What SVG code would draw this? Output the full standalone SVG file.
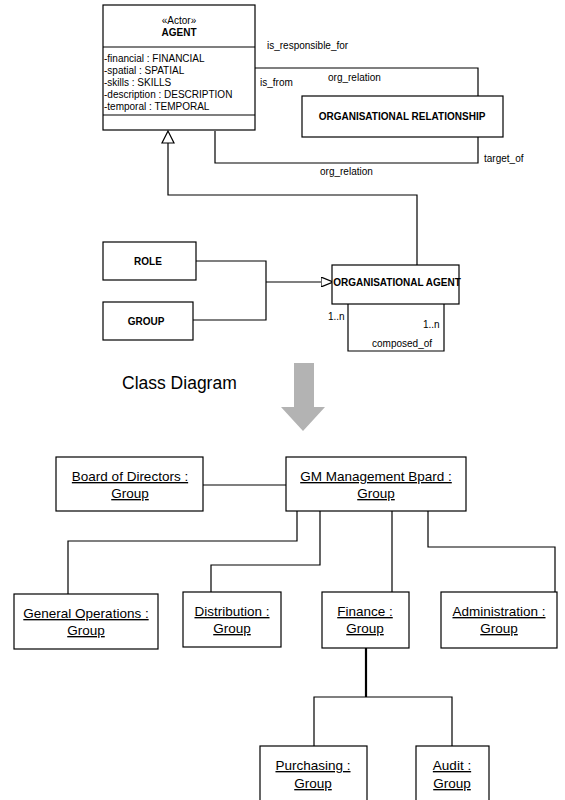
<svg xmlns="http://www.w3.org/2000/svg" width="565" height="800" viewBox="0 0 565 800">
  <style>
    .box { fill: #ffffff; stroke: #000000; stroke-width: 1.2; }
    .ln { fill: none; stroke: #000000; stroke-width: 1.2; }
    .thick { fill: none; stroke: #000000; stroke-width: 2.2; }
    .t { font-family: "Liberation Sans", Arial, sans-serif; font-size: 10px; fill: #000000; }
    .b { font-family: "Liberation Sans", Arial, sans-serif; font-size: 10px; font-weight: bold; fill: #000000; text-anchor: middle; }
    .obj { font-family: "Liberation Sans", Arial, sans-serif; font-size: 13.5px; fill: #000000; text-anchor: middle; text-decoration: underline; }
    .title { font-family: "Liberation Sans", Arial, sans-serif; font-size: 17.5px; fill: #000000; }
  </style>
  <defs>
    <marker id="hollow" viewBox="0 0 12 10" refX="12" refY="5" markerWidth="12" markerHeight="10" markerUnits="userSpaceOnUse" orient="auto">
      <path d="M0,0 L12,5 L0,10 Z" fill="#ffffff" stroke="#000000" stroke-width="1.2"/>
    </marker>
  </defs>

  <!-- class diagram connectors -->
  <g id="class-connectors">
    <!-- is_responsible_for / is_from association -->
    <polyline class="ln" points="255,68 478,68 478,96"/>
    <!-- target_of association -->
    <polyline class="ln" points="478,137 478,163 215,163 215,131"/>
    <!-- generalisation: organisational agent to agent -->
    <polyline class="ln" points="417,265 417,195 168,195 168,143"/>
    <path d="M168,131 L162,143 L174,143 Z" fill="#ffffff" stroke="#000000" stroke-width="1.2"/>
    <!-- generalisation: role / group to organisational agent -->
    <polyline class="ln" points="196,261 266,261 266,320 193,320"/>
    <line class="ln" x1="266" y1="282" x2="333" y2="282" marker-end="url(#hollow)"/>
    <!-- composed_of self association -->
    <polyline class="ln" points="348,304 348,351 444,351 444,304"/>
  </g>

  <g id="class-labels">
    <text class="t" x="267" y="49">is_responsible_for</text>
    <text class="t" x="260" y="86">is_from</text>
    <text class="t" x="328" y="81">org_relation</text>
    <text class="t" x="484" y="162">target_of</text>
    <text class="t" x="320" y="175">org_relation</text>
    <text class="t" x="328" y="320">1..n</text>
    <text class="t" x="423" y="328">1..n</text>
    <text class="t" x="372" y="347">composed_of</text>
  </g>

  <g id="agent">
    <rect class="box" x="103" y="5" width="152" height="125"/>
    <line class="ln" x1="103" y1="47" x2="255" y2="47"/>
    <line class="ln" x1="103" y1="115" x2="255" y2="115"/>
    <text class="t" x="179" y="24" text-anchor="middle" font-size="9">«Actor»</text>
    <text class="b" x="179" y="36">AGENT</text>
    <text class="t" x="104" y="62">-financial : FINANCIAL</text>
    <text class="t" x="104" y="74">-spatial : SPATIAL</text>
    <text class="t" x="104" y="86">-skills : SKILLS</text>
    <text class="t" x="104" y="98">-description : DESCRIPTION</text>
    <text class="t" x="104" y="110">-temporal : TEMPORAL</text>
  </g>

  <g id="organisational-relationship">
    <rect class="box" x="302" y="96" width="201" height="41"/>
    <text class="b" x="402" y="120">ORGANISATIONAL RELATIONSHIP</text>
  </g>

  <g id="role">
    <rect class="box" x="103" y="242" width="93" height="38"/>
    <text class="b" x="148" y="265">ROLE</text>
  </g>

  <g id="group">
    <rect class="box" x="103" y="302" width="90" height="38"/>
    <text class="b" x="146" y="325">GROUP</text>
  </g>

  <g id="organisational-agent">
    <rect class="box" x="332" y="265" width="127" height="39"/>
    <text class="b" x="397" y="286">ORGANISATIONAL AGENT</text>
  </g>

  <!-- transition from class diagram to object diagram -->
  <g id="transition">
    <text class="title" x="122" y="389">Class Diagram</text>
    <path d="M294,363 L314,363 L314,407 L325,407 L303,431 L281,407 L294,407 Z" fill="#b3b3b3"/>
  </g>

  <!-- object diagram connectors -->
  <g id="object-connectors">
    <line class="ln" x1="203" y1="485" x2="286" y2="485"/>
    <polyline class="ln" points="297,511 297,541 68,541 68,594"/>
    <polyline class="ln" points="320,511 320,565 211,565 211,592"/>
    <line class="ln" x1="392" y1="511" x2="392" y2="592"/>
    <polyline class="ln" points="428,511 428,547 555,547 555,592"/>
    <line class="thick" x1="366" y1="648" x2="366" y2="697"/>
    <polyline class="ln" points="314,746 314,697 452,697 452,746"/>
  </g>

  <g id="board-of-directors">
    <rect class="box" x="56" y="457" width="147" height="54"/>
    <text class="obj" x="130" y="481">Board of Directors :</text>
    <text class="obj" x="130" y="498">Group</text>
  </g>

  <g id="gm-management-board">
    <rect class="box" x="286" y="457" width="180" height="54"/>
    <text class="obj" x="376" y="481">GM Management Bpard :</text>
    <text class="obj" x="376" y="498">Group</text>
  </g>

  <g id="general-operations">
    <rect class="box" x="14" y="594" width="144" height="55"/>
    <text class="obj" x="86" y="618">General Operations :</text>
    <text class="obj" x="86" y="635">Group</text>
  </g>

  <g id="distribution">
    <rect class="box" x="183" y="592" width="98" height="55"/>
    <text class="obj" x="232" y="616">Distribution :</text>
    <text class="obj" x="232" y="633">Group</text>
  </g>

  <g id="finance">
    <rect class="box" x="322" y="592" width="87" height="56"/>
    <text class="obj" x="365" y="616">Finance :</text>
    <text class="obj" x="365" y="633">Group</text>
  </g>

  <g id="administration">
    <rect class="box" x="441" y="592" width="116" height="56"/>
    <text class="obj" x="499" y="616">Administration :</text>
    <text class="obj" x="499" y="633">Group</text>
  </g>

  <g id="purchasing">
    <rect class="box" x="260" y="746" width="107" height="60"/>
    <text class="obj" x="313" y="770">Purchasing :</text>
    <text class="obj" x="313" y="788">Group</text>
  </g>

  <g id="audit">
    <rect class="box" x="416" y="746" width="73" height="60"/>
    <text class="obj" x="452" y="770">Audit :</text>
    <text class="obj" x="452" y="788">Group</text>
  </g>
</svg>
